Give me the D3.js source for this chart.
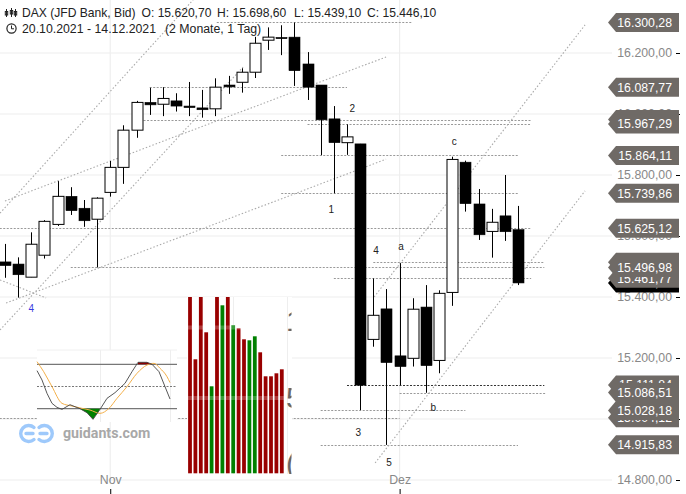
<!DOCTYPE html>
<html><head><meta charset="utf-8">
<script src="https://cdn.jsdelivr.net/npm/d3@7"></script>
<style>html,body{margin:0;padding:0;background:#fff;overflow:hidden}svg{display:block;font-family:"Liberation Sans",Arial,sans-serif}</style>
</head><body><svg id="c" width="686" height="494"></svg>
<script>
// Candles (20.10.2021 - 14.12.2021, one per trading day)
const opens =[15515,15508,15465,15537,15638,15730,15691,15655,15743,15825,15947,16038,16032,16043,16026,16020,16017,16095,16104,16137,16242,16251,16252,16164,16095,15984,15906,15902,15261,15361,15207,15199,15367,15192,15415,15842,15705,15615,15666,15620.7];
const highs =[15574,15530,15612,15652,15780,15760,15718,15727,15846,15963,16043,16086,16088,16068,16105,16079,16117,16125,16150,16253,16284,16291,16300,16203,16095,16026,15966,15902,15461,15426,15511,15396,15439,15422,15860,15847,15754,15689,15800,15698.6];
const lows  =[15463,15398,15465,15526,15633,15669,15630,15497,15729,15771,15922,15997,15993,16008,15993,15988,15993,16066,16070,16118,16210,16193,16092,16046,15865,15740,15866,15029,15237,14915,15111,15172,15086,15150,15371,15680,15587,15529,15584,15439.1];
const closes=[15503,15473,15573,15648,15730,15683,15650,15724,15825,15947,16038,16030,16051,16026,16021,16014,16088,16089,16137,16232,16252,16247,16142,16088,15981,15906,15925,15111,15340,15185,15172,15360,15175,15412,15851,15706,15604,15645,15614,15446.1];

// Price axis
const yTicks=[16200,16000,15800,15600,15400,15200,15000,14800];
const xTickIdx=[8,30];
const xTickLabels=["Nov","Dez"];

// Horizontal levels: value, first candle index, last candle index
const levelValues=[16300.28,16087.77,15981.58,15967.29,15864.11,15739.86,15625.12,15514.20,15496.98,15461.77,15111.84,15086.51,15028.18,15004.12,14915.83];
const levelFrom  =[16.1,11,10,23,21,21,-0.4,28,5,25,26,30,24,-0.4,24];
const levelTo    =[31,26,40,40,39,39,40,41,41,40,41,41.1,35,30,39];
// Price tags, in stacking order
const tagValues=[16300.28,16087.77,15981.58,15967.29,15864.11,15739.86,15625.12,15446.10,15461.77,15514.20,15496.98,15004.12,15111.84,15086.51,15028.18,14915.83];

// Trend lines: [index, price, index, price]
const trendLines=[
 [-0.38,15675,14.3,16374],[0,15715,28.97,16187],[-0.38,15456,3.12,15397],
 [0.08,15380,28.97,15852],[-0.38,15292,18.1,16154],[28.06,15400,44.1,16292],[28.14,14856,44.1,15748]];

// Wave labels
const waveText =["1","2","3","4","5","a","b","c","4"];
const waveIdx  =[24.8,26.4,26.85,28.2,29.2,30.1,32.55,34.15,2];
const wavePrice=[15674,16005,14943,15541,14846,15554,15026,15898,15352];

// Oscillator inset
const oscT1=[0,5,10,15,20,25,33,43,50,56,63,70,78,88,95,101,110,115,122,128,133];
const oscK =[71.4,58.8,40.7,27.2,21.8,19.1,25.4,20,14.6,5.6,19.1,34,41.7,54.3,70,82.7,82.7,80,70,49.8,33.1];
const oscT2=[0,6.7,15,25,35,45,53,63,72,80,90,100,110,117,123,130,133];
const oscD =[83.6,70,49.8,27.2,23.6,20.5,18.2,13.7,20.5,34,49.8,67.8,79,81.3,74.6,63.3,55.2];
const oscLevels=[80,50,20];

// Volume-like inset
const volValues=[190,114,190,141,87,190,168,190,148,145,134,133,137,121,97,97,100,104];
const volUp    =[0,0,0,0,1,0,1,0,1,0,0,1,1,0,0,0,0,0];

const svg=d3.select("#c");
const x=d3.scaleLinear().domain([0,39]).range([5,518]);
const y=d3.scaleLinear().domain([14800,16200]).range([480,53]);
const snap=v=>Math.round(v)+0.5;

// grid
const grid=svg.append("g").attr("stroke","#eeeeee").attr("stroke-width",1.2);
grid.selectAll("line.h").data(yTicks).join("line").attr("x1",0).attr("x2",612).attr("y1",d=>y(d)).attr("y2",d=>y(d));
grid.selectAll("line.v").data(xTickIdx).join("line").attr("x1",d=>x(d)).attr("x2",d=>x(d)).attr("y1",0).attr("y2",484);

// level lines
svg.append("g").selectAll("line").data(levelValues).join("line")
 .attr("x1",(d,i)=>x(levelFrom[i])).attr("x2",(d,i)=>x(levelTo[i]))
 .attr("y1",d=>snap(y(d))).attr("y2",d=>snap(y(d)))
 .attr("stroke",d=>d===15111.84?"#333":"#999").attr("stroke-width",1).attr("stroke-dasharray","2,1.5");

// trend lines
svg.append("g").selectAll("line").data(trendLines).join("line")
 .attr("x1",d=>x(d[0])).attr("y1",d=>y(d[1])).attr("x2",d=>x(d[2])).attr("y2",d=>y(d[3]))
 .attr("stroke","#aaa").attr("stroke-width",1.1).attr("stroke-dasharray","1.5,2");

// candles
const cg=svg.append("g").selectAll("g").data(opens).join("g");
cg.append("line").attr("x1",(d,i)=>snap(x(i))).attr("x2",(d,i)=>snap(x(i)))
 .attr("y1",(d,i)=>y(highs[i])).attr("y2",(d,i)=>y(lows[i])).attr("stroke","#000").attr("stroke-width",1);
cg.append("rect")
 .attr("x",(d,i)=>Math.round(x(i))-5)
 .attr("width",11)
 .attr("y",(d,i)=>y(Math.max(opens[i],closes[i])))
 .attr("height",(d,i)=>Math.max(1,Math.abs(y(opens[i])-y(closes[i]))))
 .attr("fill",(d,i)=>closes[i]>opens[i]?"#fff":"#000").attr("stroke","#000")
 .attr("stroke-width",(d,i)=>closes[i]>opens[i]?1:0.6);

// wave labels
svg.append("g").selectAll("text").data(waveText).join("text")
 .attr("x",(d,i)=>x(waveIdx[i])).attr("y",(d,i)=>y(wavePrice[i]))
 .attr("text-anchor","middle").attr("font-size",10)
 .attr("fill",(d,i)=>i===8?"#3a3ae0":"#222").text(d=>d);

// oscillator inset
const ox=d3.scaleLinear().domain([0,140]).range([37,177]);
const oy=d3.scaleLinear().domain([20,80]).range([408.7,364.3]);
const osc=svg.append("g");
osc.append("rect").attr("x",37).attr("y",350).attr("width",140).attr("height",72).attr("fill","#fff");
osc.selectAll("line.v").data([63.5,133.5]).join("line").attr("x1",d=>ox(d)).attr("x2",d=>ox(d)).attr("y1",350).attr("y2",422).attr("stroke","#eee");
osc.append("line").attr("x1",37).attr("x2",177).attr("y1",350).attr("y2",350).attr("stroke","#f0f0f0");
osc.selectAll("line.l").data(oscLevels).join("line").attr("x1",37).attr("x2",177)
 .attr("y1",d=>oy(d)).attr("y2",d=>oy(d)).attr("stroke","#777").attr("stroke-width",d=>d===50?1:1.2)
 .attr("stroke-dasharray",d=>d===50?"2,1.5":null);
const kPts=oscT1.map((t,i)=>[t,oscK[i]]);
osc.append("path").attr("fill","#008000").datum(kPts.filter(p=>p[0]>=43&&p[0]<=63)).attr("d",d3.area().x(d=>ox(d[0])).y0(oy(20)).y1(d=>oy(d[1])));
osc.append("path").attr("fill","#8b0000").datum(kPts.filter(p=>p[0]>=101&&p[0]<=115)).attr("d",d3.area().x(d=>ox(d[0])).y0(oy(80)).y1(d=>oy(d[1])));
const ln=d3.line().x(d=>ox(d[0])).y(d=>oy(d[1]));
osc.append("path").datum(oscT2.map((t,i)=>[t,oscD[i]])).attr("d",ln.curve(d3.curveMonotoneX)).attr("fill","none").attr("stroke","#f4b04a").attr("stroke-width",1);
osc.append("path").datum(kPts).attr("d",ln.curve(d3.curveLinear)).attr("fill","none").attr("stroke","#444").attr("stroke-width",0.9);

// volume inset
const vy=d3.scaleLinear().domain([0,176]).range([473.3,297.3]);
const vb=d3.scaleBand().domain(d3.range(volValues.length)).range([187.3,284.5]).paddingInner(0.3).paddingOuter(0.15);
const vol=svg.append("g");
vol.append("rect").attr("x",187).attr("y",297).attr("width",105).attr("height",177).attr("fill","#fff");
vol.selectAll("line.v").data([233.5,287.5]).join("line").attr("x1",d=>d).attr("x2",d=>d).attr("y1",297).attr("y2",474).attr("stroke","#eee");
svg.append("defs").append("clipPath").attr("id","vc").append("rect").attr("x",187).attr("y",297).attr("width",104.5).attr("height",177);
vol.append("g").attr("clip-path","url(#vc)").selectAll("rect").data(volValues).join("rect")
 .attr("x",(d,i)=>vb(i)).attr("width",vb.bandwidth()).attr("y",d=>vy(d)).attr("height",d=>vy(0)-vy(d))
 .attr("fill",(d,i)=>volUp[i]?"#008000":"#990000");
vol.selectAll("rect.band").data([327.5,398]).join("rect").attr("x",187).attr("width",100).attr("y",d=>d-2).attr("height",4).attr("fill","#fff").attr("opacity",0.22);
vol.append("g").attr("clip-path","url(#vc)").selectAll("text").data(["1","5","("]).join("text")
 .attr("x",[286]).attr("y",(d,i)=>[331,408,474][i]).attr("font-size",30).attr("fill","#666").text(d=>d);

// logo
const logo=svg.append("g").attr("fill","none").attr("stroke","#9ec9fb").attr("stroke-width",3.4).attr("stroke-linecap","round");
logo.append("path").attr("d","M34,427.5 A8,8 0 1 0 34,439.5 M26,433.5 H33");
logo.append("path").attr("d","M39,439.5 A8,8 0 1 0 39,427.5 M40,433.5 H47");
svg.append("text").attr("x",63).attr("y",438).attr("font-family","Roboto").attr("font-weight",700).attr("font-size",14.2).attr("fill","#a8a8a8").text("guidants.com");

// axes
const fmt=d=>d3.format(",.2f")(d).replace(/,/g,"#").replace(".",",").replace(/#/g,".");
const yAxis=d3.axisLeft(y).tickValues(yTicks).tickSize(4).tickPadding(4).tickFormat(fmt);
const ya=svg.append("g").attr("transform","translate(680,0)").call(yAxis);
ya.select(".domain").remove();
ya.selectAll("text").attr("font-size",12.3).attr("font-family","Liberation Sans").attr("fill","#888");
ya.selectAll("line").attr("stroke","#000");
const xAxis=d3.axisBottom(x).tickValues(xTickIdx).tickSize(5).tickFormat((d,i)=>xTickLabels[i]);
const xa=svg.append("g").attr("transform","translate(0,489)").call(xAxis);
xa.select(".domain").remove();
xa.selectAll("text").attr("y",-9).attr("dy","0.35em").attr("font-size",12.3).attr("font-family","Liberation Sans").attr("fill","#888");
xa.selectAll("line").attr("stroke","#000");

// price tags
const tag=svg.append("g").selectAll("g").data(tagValues).join("g").attr("transform",d=>`translate(0,${y(d)})`);
tag.append("path").attr("d","M608,0 L616,-9.5 H679 V9.5 H616 Z").attr("fill",d=>d===15446.10?"#000":"#6f6a66");
tag.append("text").attr("x",672).attr("y",4.5).attr("text-anchor","end").attr("font-size",12.3).attr("fill","#fff").text(fmt);

// header
const hdr=svg.append("g").attr("fill","#222");
const headerText=[["DAX (JFD Bank, Bid)",22,17],["O: 15.620,70",141.5,17],["H: 15.698,60",217,17],["L: 15.439,10",294,17],["C: 15.446,10",367,17],["20.10.2021 - 14.12.2021",22,33],["(2 Monate, 1 Tag)",165,33]];
hdr.selectAll("text").data(headerText).join("text").attr("x",d=>d[1]).attr("y",d=>d[2]).attr("font-size",d=>d[2]===33?12.3:12.1).text(d=>d[0]);
const ic=svg.append("g").attr("stroke","#222").attr("fill","none").attr("stroke-width",1);
[[6.5,9,17],[11.5,8,17],[15.5,9,17]].forEach(d=>{ic.append("line").attr("x1",d[0]).attr("x2",d[0]).attr("y1",d[1]).attr("y2",d[2]);ic.append("rect").attr("x",d[0]-1.2).attr("y",d[1]+2.5).attr("width",2.4).attr("height",3.5);});
ic.append("circle").attr("cx",11.5).attr("cy",28.5).attr("r",4.6).attr("stroke-width",1.2);
ic.append("path").attr("d","M11.5,25.5 V28.8 H14");
</script></body></html>
